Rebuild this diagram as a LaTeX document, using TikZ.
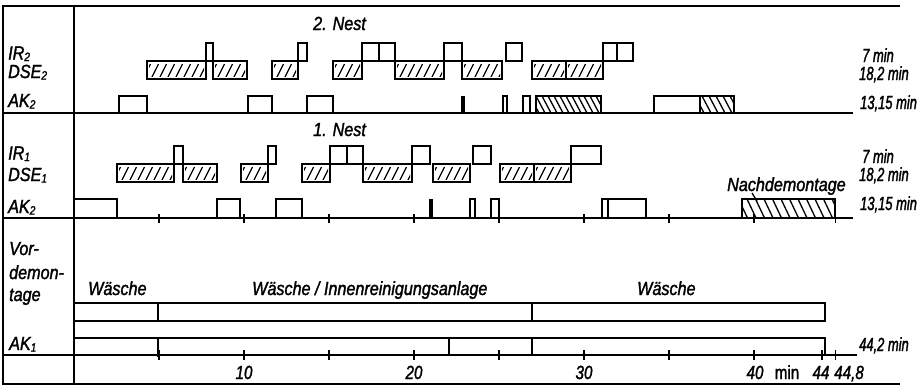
\documentclass[tikz,border=0pt]{standalone}
\usepackage{fontspec}
\newfontfamily\tfont{Liberation Sans}[FakeStretch=0.85,FakeBold=1.6]
\newfontfamily\nfont{Liberation Sans}[FakeStretch=0.68,FakeBold=1.6]
\newfontfamily\afont{Liberation Sans}[FakeStretch=0.8,FakeBold=1.6]
\newcommand\sbs[1]{\raisebox{-1.5pt}{\fontsize{12}{12}\selectfont #1}}
\tikzset{
  frame/.style={line width=1.5pt},
  bx/.style={line width=2pt},
  hl/.style={line width=1.3pt},
  lbl/.style={font=\tfont\itshape\fontsize{19}{21}\selectfont, inner sep=0pt, anchor=base west},
  mlbl/.style={font=\nfont\itshape\fontsize{19}{21}\selectfont, inner sep=0pt, anchor=base west},
  axl/.style={font=\afont\itshape\fontsize{19}{21}\selectfont, inner sep=0pt, anchor=base},
}
% plain box: x1 x2 ytop ybot
\newcommand\obox[4]{\draw[bx] (#1,#3) rectangle (#2,#4);}
% DSE box hatched "/"
\newcommand\dbox[4]{%
  \begin{scope}
    \clip (#1+2,#3+3) rectangle (#2-2,#4-3);
    \pgfmathtruncatemacro\nh{(#2-#1+24)/8}
    \foreach \i in {0,...,\nh}{\draw[hl] ({#1-12+\i*8},#4) -- ({#1-12+\i*8+9},#3);}
  \end{scope}
  \draw[bx] (#1,#3) rectangle (#2,#4);}
% AK box hatched "\"
\newcommand\abox[5]{%
  \begin{scope}
    \clip (#1,#3) rectangle (#2,#4);
    \pgfmathtruncatemacro\nh{(#2-#1+24)/#5}
    \foreach \i in {0,...,\nh}{\draw[hl] ({#1-12+\i*#5},#3) -- ({#1-12+\i*#5+9},#4);}
  \end{scope}
  \draw[bx] (#1,#3) rectangle (#2,#4);}
\begin{document}
\begin{tikzpicture}[x=1pt,y=-1pt]
\useasboundingbox (0,0) rectangle (917,388);
% frame
\draw[frame] (900,6) -- (3,6) -- (3,384) -- (900,384);
\draw[frame] (74,6) -- (74,384);
\draw[frame] (3,113) -- (853,113);
\draw[frame] (3,218) -- (853,218);
\draw[frame] (3,355) -- (857,355);

% ===== Nest 2 =====
\node[lbl] at (313,30) {2. Nest};
\node[lbl] at (8,59.5) {IR\sbs{2}};
\node[lbl] at (8,78) {DSE\sbs{2}};
\node[lbl] at (8,107) {AK\sbs{2}};
\node[mlbl] at (862,62) {7 min};
\node[mlbl] at (859,80) {18,2 min};
\node[mlbl] at (860,109) {13,15 min};
% DSE2
\dbox{147}{206}{61}{79}
\dbox{213}{247}{61}{79}
\dbox{272}{298}{61}{79}
\dbox{333}{362}{61}{79}
\dbox{395}{444}{61}{79}
\dbox{462}{502}{61}{79}
\dbox{532}{566}{61}{79}
\dbox{566}{603}{61}{79}
% IR2
\obox{206}{213}{43}{61}
\obox{298}{307}{43}{61}
\obox{362}{379}{43}{61}
\obox{379}{395}{43}{61}
\obox{444}{462}{43}{61}
\obox{506}{522}{43}{61}
\obox{603}{617}{43}{61}
\obox{617}{633}{43}{61}
% AK2
\obox{119}{147}{96}{113}
\obox{248}{272}{96}{113}
\obox{307}{333}{96}{113}
\fill (461,96) rectangle (465,113);
\obox{503}{507}{96}{113}
\obox{523}{530}{96}{113}
\abox{536}{601}{96}{113}{6}
\obox{654}{700}{96}{113}
\abox{700}{734}{96}{113}{7}

% ===== Nest 1 =====
\node[lbl] at (313,136) {1. Nest};
\node[lbl] at (8,159.5) {IR\sbs{1}};
\node[lbl] at (8,181) {DSE\sbs{1}};
\node[lbl] at (8,213) {AK\sbs{2}};
\node[mlbl] at (862,163) {7 min};
\node[mlbl] at (859,181) {18,2 min};
\node[mlbl] at (860,210) {13,15 min};
% DSE1
\dbox{117}{174}{164}{182}
\dbox{183}{217}{164}{182}
\dbox{241}{268}{164}{182}
\dbox{302}{330}{164}{182}
\dbox{363}{412}{164}{182}
\dbox{433}{470}{164}{182}
\dbox{500}{534}{164}{182}
\dbox{534}{571}{164}{182}
% IR1
\obox{174}{183}{146}{164}
\obox{268}{276}{146}{164}
\obox{330}{347}{146}{164}
\obox{347}{363}{146}{164}
\obox{412}{430}{146}{164}
\obox{473}{491}{146}{164}
\obox{571}{601}{146}{164}
% AK2 (nest 1)
\obox{74}{117}{199}{218}
\obox{217}{240}{199}{218}
\obox{276}{302}{199}{218}
\fill (429,199) rectangle (433,218);
\obox{470}{475}{199}{218}
\obox{491}{499}{199}{218}
\obox{602}{608}{199}{218}
\obox{608}{646}{199}{218}
\abox{742}{835}{199}{218}{8.5}
\node[lbl] at (727,191) {Nachdemontage};
\draw[hl] (752,193) -- (757,201);
\foreach \t in {5,10,15,20,25,30,35,40,44.8}
  \draw[frame] ({74+17*\t},214) -- ++(0,9);

% ===== Vordemontage =====
\node[lbl] at (9,255) {Vor-};
\node[lbl] at (9,279) {demon-};
\node[lbl] at (9,301) {tage};
\node[lbl] at (9,350) {AK\sbs{1}};
\node[lbl] at (88,295) {Wäsche};
\node[lbl] at (252,295) {Wäsche / Innenreinigungsanlage};
\node[lbl] at (637,295) {Wäsche};
\draw[bx] (74,303) rectangle (825,321);
\draw[bx] (158,303) -- (158,321);
\draw[bx] (532,303) -- (532,321);
\draw[bx] (74,338) -- (825,338) -- (825,355);
\draw[bx] (158,338) -- (158,357);
\draw[bx] (449,338) -- (449,355);
\draw[bx] (532,338) -- (532,355);
\node[mlbl] at (859,351) {44,2 min};
% axis
\foreach \t in {5,10,15,20,25,30,35,40,44,44.8}
  \draw[frame] ({74+17*\t},350) -- ++(0,10);
\node[axl] at (244,379) {10};
\node[axl] at (414,379) {20};
\node[axl] at (584,379) {30};
\node[axl] at (755,379) {40};
\node[axl,font=\afont\fontsize{19}{21}\selectfont] at (787,379) {min};
\node[axl] at (821,379) {44};
\node[axl] at (849,379) {44,8};
\end{tikzpicture}
\end{document}
